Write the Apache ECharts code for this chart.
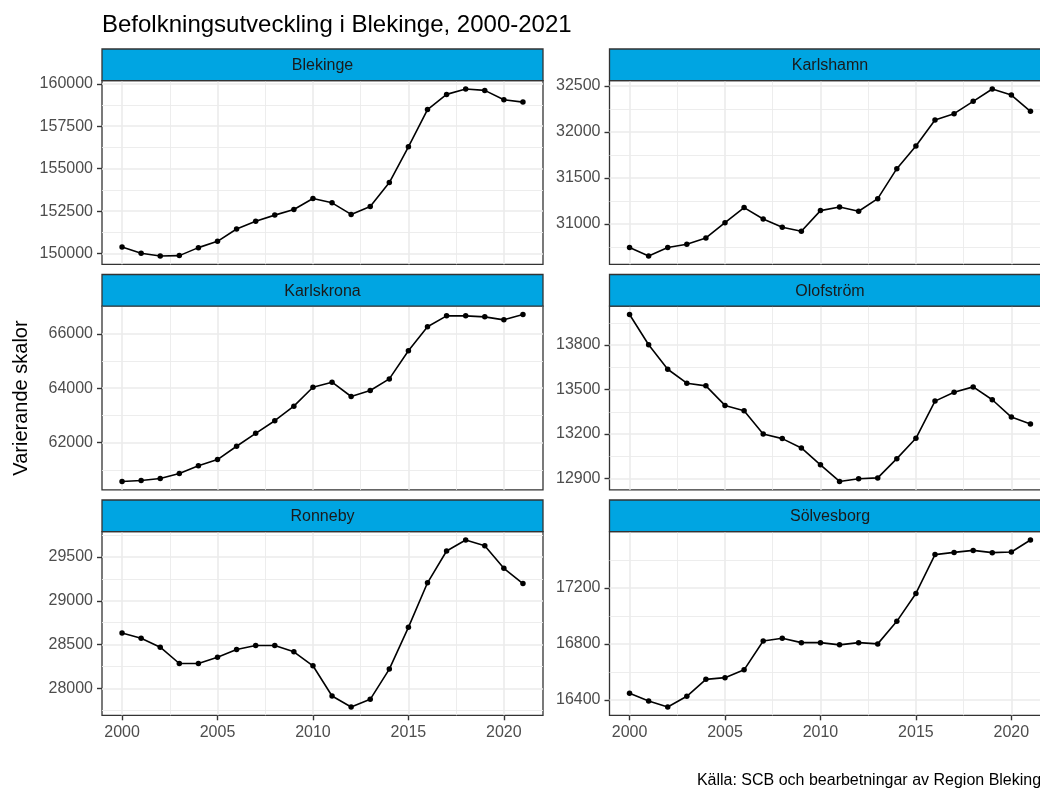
<!DOCTYPE html>
<html><head><meta charset="utf-8">
<script src="https://cdn.jsdelivr.net/npm/echarts@6/dist/echarts.min.js"></script>
<style>html,body{margin:0;padding:0;background:#fff}#c{width:1040px;height:789px}</style>
</head><body><div id="c"></div>
<script>
const years = [2000,2001,2002,2003,2004,2005,2006,2007,2008,2009,2010,2011,2012,2013,2014,2015,2016,2017,2018,2019,2020,2021];
const blekinge   = [150390,150020,149860,149880,150350,150720,151445,151910,152265,152600,153240,152990,152305,152770,154180,156290,158480,159375,159690,159610,159060,158920];
const karlshamn  = [30743,30652,30743,30779,30848,31014,31178,31054,30964,30920,31145,31185,31138,31275,31601,31848,32130,32199,32333,32467,32402,32225];
const karlskrona = [60573,60610,60683,60866,61146,61378,61866,62341,62805,63341,64037,64220,63695,63915,64341,65378,66256,66659,66659,66622,66512,66707];
const olofstrom  = [14006,13802,13637,13543,13525,13393,13357,13200,13169,13106,12992,12880,12898,12904,13034,13171,13422,13482,13518,13431,13314,13267];
const ronneby    = [28633,28572,28470,28284,28284,28356,28443,28489,28489,28417,28258,27913,27788,27875,28220,28697,29205,29568,29693,29629,29371,29197];
const solvesborg = [16447,16393,16350,16426,16547,16559,16615,16821,16840,16809,16809,16793,16809,16800,16961,17160,17437,17453,17467,17451,17456,17541];

const panelNames = ['Blekinge','Karlshamn','Karlskrona','Olofström','Ronneby','Sölvesborg'];
const xTicks = [2000,2005,2010,2015,2020];
const blekingeTicks   = [150000,152500,155000,157500,160000];
const karlshamnTicks  = [31000,31500,32000,32500];
const karlskronaTicks = [62000,64000,66000];
const olofstromTicks  = [12900,13200,13500,13800];
const ronnebyTicks    = [28000,28500,29000,29500];
const solvesborgTicks = [16400,16800,17200];

const titleText = 'Befolkningsutveckling i Blekinge, 2000-2021';
const yTitleText = 'Varierande skalor';
const captionText = 'Källa: SCB och bearbetningar av Region Blekinge';

const panelValues = [blekinge,karlshamn,karlskrona,olofstrom,ronneby,solvesborg];
const panelTicks = [blekingeTicks,karlshamnTicks,karlskronaTicks,olofstromTicks,ronnebyTicks,solvesborgTicks];

// layout
const FONT = '"Liberation Sans", Arial, sans-serif';
const colLeft = [102, 609.5];
const plotW = 441;
const rowTop = [49, 274.5, 500];
const stripH = 31.7;
const plotH = 183.6;
const stripColor = '#00A5E2';
const borderColor = '#333333';
const gridColor = '#EBEBEB';

function expand(min, max) { const r = max - min; return [min - 0.05*r, max + 0.05*r]; }
const xRange = expand(years[0], years[years.length-1]);

function minorsOf(ticks, lo, hi) {
  const step = ticks[1] - ticks[0];
  const res = [];
  const ext = [ticks[0]-step, ...ticks, ticks[ticks.length-1]+step];
  for (let i = 0; i < ext.length-1; i++) {
    const m = (ext[i]+ext[i+1])/2;
    if (m > lo && m < hi) res.push(m);
  }
  return res;
}

const grids = [], xAxes = [], yAxes = [], series = [], graphics = [];
panelNames.forEach((name, i) => {
  const col = i % 2, row = Math.floor(i/2);
  const left = colLeft[col], top = rowTop[row] + stripH;
  const vals = panelValues[i];
  const yr = expand(Math.min(...vals), Math.max(...vals));
  const bottom = row === 2;
  grids.push({left, top, width: plotW, height: plotH, show: true, backgroundColor: '#fff',
    borderColor, borderWidth: 1.3, containLabel: false, outerBoundsMode: 'none'});
  xAxes.push({type: 'value', gridIndex: i, min: xRange[0], max: xRange[1],
    axisLine: {show: false}, splitLine: {show: false},
    axisTick: {show: bottom, customValues: xTicks, length: 5, lineStyle: {color: borderColor, width: 1.4}},
    axisLabel: {show: bottom, customValues: xTicks, color: '#4D4D4D', fontSize: 16, fontFamily: FONT, margin: 9,
      formatter: v => String(v)}});
  yAxes.push({type: 'value', gridIndex: i, min: yr[0], max: yr[1],
    axisLine: {show: false}, splitLine: {show: false},
    axisTick: {show: true, customValues: panelTicks[i], length: 5, lineStyle: {color: borderColor, width: 1.4}},
    axisLabel: {show: true, customValues: panelTicks[i], color: '#4D4D4D', fontSize: 16, fontFamily: FONT, margin: 9,
      formatter: v => String(v)}});
  const xMin = minorsOf(xTicks, xRange[0], xRange[1]);
  const yMin = minorsOf(panelTicks[i], yr[0], yr[1]);
  const ml = [];
  xMin.forEach(v => ml.push({xAxis: v, lineStyle: {width: 0.9, color: gridColor, type: 'solid'}}));
  yMin.forEach(v => ml.push({yAxis: v, lineStyle: {width: 0.9, color: gridColor, type: 'solid'}}));
  xTicks.forEach(v => ml.push({xAxis: v, lineStyle: {width: 1.6, color: gridColor, type: 'solid'}}));
  panelTicks[i].forEach(v => { if (v > yr[0] && v < yr[1]) ml.push({yAxis: v, lineStyle: {width: 1.6, color: gridColor, type: 'solid'}}); });
  const pts = years.map((y, k) => [y, vals[k]]);
  series.push({type: 'line', xAxisIndex: i, yAxisIndex: i, data: pts, symbol: 'none', z: 1, silent: true,
    lineStyle: {opacity: 0, width: 0}, animation: false,
    markLine: {silent: true, symbol: ['none','none'], z: 1, animation: false, label: {show: false},
      emphasis: {disabled: true}, data: ml}});
  series.push({type: 'line', name, xAxisIndex: i, yAxisIndex: i, data: pts, z: 3,
    symbol: 'circle', symbolSize: 5.5, showSymbol: true, showAllSymbol: true,
    itemStyle: {color: '#000'}, lineStyle: {color: '#000', width: 1.6}, animation: false});
  graphics.push({type: 'rect', shape: {x: left, y: rowTop[row], width: plotW, height: stripH},
    style: {fill: stripColor, stroke: borderColor, lineWidth: 1.3}, z: 10});
  graphics.push({type: 'text', x: left + plotW/2, y: rowTop[row] + stripH/2 + 1,
    style: {text: name, fill: '#1A1A1A', font: '16px ' + FONT, align: 'center', verticalAlign: 'middle',
      textAlign: 'center', textVerticalAlign: 'middle'}, z: 11});
});
graphics.push({type: 'text', x: 102, y: 25.5,
  style: {text: titleText, fill: '#000', font: '24px ' + FONT, align: 'left', verticalAlign: 'middle',
    textAlign: 'left', textVerticalAlign: 'middle'}});
graphics.push({type: 'text', x: 21, y: 398, rotation: Math.PI/2,
  style: {text: yTitleText, fill: '#000', font: '20px ' + FONT, align: 'center', verticalAlign: 'middle',
    textAlign: 'center', textVerticalAlign: 'middle'}});
graphics.push({type: 'text', x: 1050, y: 781,
  style: {text: captionText, fill: '#000', font: '16px ' + FONT, align: 'right', verticalAlign: 'middle',
    textAlign: 'right', textVerticalAlign: 'middle'}});

const chart = echarts.init(document.getElementById('c'), null, {renderer: 'canvas'});
chart.setOption({
  animation: false,
  backgroundColor: '#fff',
  textStyle: {fontFamily: FONT},
  grid: grids, xAxis: xAxes, yAxis: yAxes, series, graphic: graphics
});
</script></body></html>
